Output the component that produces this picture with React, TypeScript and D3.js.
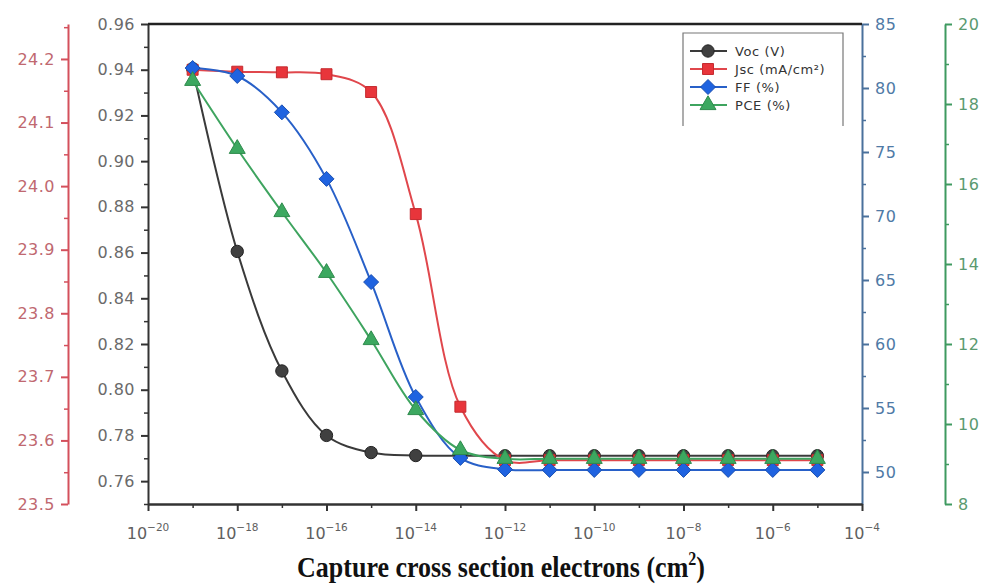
import * as d3 from 'd3';
import React, { useEffect, useRef } from 'react';

// Capture cross section exponents (10^n cm^2)
const exponents = [-19, -18, -17, -16, -15, -14, -13, -12, -11, -10, -9, -8, -7, -6, -5];

// Series values
const vocValues = [0.9405, 0.8605, 0.8082, 0.7800, 0.7725, 0.7712, 0.7711, 0.7711, 0.7711, 0.7711, 0.7711, 0.7711, 0.7711, 0.7711, 0.7711];
const jscValues = [24.183, 24.180, 24.179, 24.176, 24.148, 23.956, 23.653, 23.569, 23.569, 23.569, 23.569, 23.569, 23.569, 23.569, 23.569];
const ffValues = [81.56, 80.94, 78.10, 72.90, 64.84, 55.86, 51.10, 50.20, 50.16, 50.16, 50.16, 50.16, 50.16, 50.16, 50.16];
const pceValues = [18.58, 16.88, 15.30, 13.78, 12.10, 10.35, 9.35, 9.13, 9.13, 9.13, 9.13, 9.13, 9.13, 9.13, 9.13];

// Tick values
const xTickExponents = [-20, -18, -16, -14, -12, -10, -8, -6, -4];
const xMinorExponents = [-19, -17, -15, -13, -11, -9, -7, -5];
const vocTicks = [0.76, 0.78, 0.80, 0.82, 0.84, 0.86, 0.88, 0.90, 0.92, 0.94, 0.96];
const vocMinor = [0.75, 0.77, 0.79, 0.81, 0.83, 0.85, 0.87, 0.89, 0.91, 0.93, 0.95];
const jscTicks = [23.5, 23.6, 23.7, 23.8, 23.9, 24.0, 24.1, 24.2];
const jscMinor = [23.55, 23.65, 23.75, 23.85, 23.95, 24.05, 24.15, 24.25];
const ffTicks = [50, 55, 60, 65, 70, 75, 80, 85];
const ffMinor = [52.5, 57.5, 62.5, 67.5, 72.5, 77.5, 82.5];
const pceTicks = [8, 10, 12, 14, 16, 18, 20];
const pceMinor = [9, 11, 13, 15, 17, 19];

const legendLabels = ['Voc (V)', 'Jsc (mA/cm²)', 'FF (%)', 'PCE (%)'];

const App = () => {
    const myRef = useRef<SVGSVGElement>(null);

    useEffect(() => {
        drawChart();
        // eslint-disable-next-line react-hooks/exhaustive-deps
    }, []);

    function drawChart() {
        const svg = d3.select(myRef.current);
        svg.selectAll('*').remove();

        const plot = { left: 148, right: 862, top: 24, bottom: 504 };
        const font = '"DejaVu Sans", Arial, sans-serif';

        const x = d3.scaleLog().domain([1e-20, 1e-4]).range([plot.left, plot.right]);
        const yVoc = d3.scaleLinear().domain([0.75, 0.96]).range([plot.bottom, plot.top]);
        const yJsc = d3.scaleLinear().domain([23.5, 24.255]).range([plot.bottom, plot.top]);
        const yFF = d3.scaleLinear().domain([47.5, 85]).range([plot.bottom, plot.top]);
        const yPCE = d3.scaleLinear().domain([8, 20]).range([plot.bottom, plot.top]);

        // Draws an axis with major + minor ticks
        function drawAxis(axisFn, scale, pos, major, minor, color, labelColor, fmt) {
            const g = svg.append('g').attr('transform', `translate(${pos[0]},${pos[1]})`);
            const axis = axisFn(scale).tickValues(major).tickSize(7).tickSizeOuter(0).tickPadding(6);
            if (fmt) axis.tickFormat(fmt);
            g.call(axis);
            g.select('.domain').attr('stroke', color).attr('stroke-width', 2);
            g.selectAll('.tick line').attr('stroke', color).attr('stroke-width', 2);
            g.selectAll('.tick text')
                .attr('fill', labelColor)
                .style('font-family', font)
                .style('font-size', '16px')
                .style('letter-spacing', '0.5px');
            const gm = svg.append('g').attr('transform', `translate(${pos[0]},${pos[1]})`);
            gm.call(axisFn(scale).tickValues(minor).tickSize(4).tickFormat(() => ''));
            gm.select('.domain').remove();
            gm.selectAll('.tick line').attr('stroke', color).attr('stroke-width', 1.5);
            return g;
        }

        drawAxis(d3.axisLeft, yJsc, [68, 0], jscTicks, jscMinor, '#d4505c', '#c06870', d3.format('.1f'));
        drawAxis(d3.axisLeft, yVoc, [plot.left, 0], vocTicks, vocMinor, '#333', '#6a6a6a', d3.format('.2f'));
        drawAxis(d3.axisRight, yFF, [plot.right, 0], ffTicks, ffMinor, '#4a719c', '#4f7aa6', d3.format('d'));
        drawAxis(d3.axisRight, yPCE, [945, 0], pceTicks, pceMinor, '#3f9a60', '#5a9a70', d3.format('d'));

        // Top border
        svg.append('line')
            .attr('x1', plot.left).attr('x2', plot.right)
            .attr('y1', plot.top).attr('y2', plot.top)
            .attr('stroke', '#222').attr('stroke-width', 2.5);

        // X axis
        const gx = svg.append('g').attr('transform', `translate(0,${plot.bottom})`);
        gx.call(d3.axisBottom(x).tickValues(xTickExponents.map(e => Math.pow(10, e))).tickSize(7).tickSizeOuter(0).tickFormat(() => ''));
        gx.select('.domain').attr('stroke', '#333').attr('stroke-width', 2.5);
        gx.selectAll('.tick line').attr('stroke', '#333').attr('stroke-width', 2);
        const gxm = svg.append('g').attr('transform', `translate(0,${plot.bottom})`);
        gxm.call(d3.axisBottom(x).tickValues(xMinorExponents.map(e => Math.pow(10, e))).tickSize(4).tickFormat(() => ''));
        gxm.select('.domain').remove();
        gxm.selectAll('.tick line').attr('stroke', '#333').attr('stroke-width', 1.5);

        const xl = svg.append('g');
        xTickExponents.forEach(e => {
            const t = xl.append('text')
                .attr('x', x(Math.pow(10, e)))
                .attr('y', 539)
                .attr('text-anchor', 'middle')
                .attr('fill', '#606060')
                .style('font-family', font)
                .style('font-size', '16px');
            t.append('tspan').text('10');
            t.append('tspan').attr('dy', -8).style('font-size', '10.5px').text(`−${-e}`);
        });

        // X title
        const title = svg.append('text')
            .attr('transform', 'translate(501,577) scale(1,1.12)')
            .attr('text-anchor', 'middle')
            .attr('fill', '#111')
            .style('font-family', '"Liberation Serif", "Times New Roman", serif')
            .style('font-weight', 'bold')
            .style('font-size', '26px');
        title.append('tspan').text('Capture cross section electrons (cm');
        title.append('tspan').attr('dy', -11).style('font-size', '16px').text('2');
        title.append('tspan').attr('dy', 11).text(')');

        // Series
        const diamond = (s) => `M0,${-s}L${s},0L0,${s}L${-s},0Z`;
        const series = [
            { values: vocValues, y: yVoc, line: '#3a3a3a', fill: '#404040', stroke: '#222', shape: d3.symbol(d3.symbolCircle, 120)() },
            { values: jscValues, y: yJsc, line: '#e0474c', fill: '#e8353b', stroke: '#c42a2f', shape: d3.symbol(d3.symbolSquare, 120)() },
            { values: ffValues, y: yFF, line: '#2860c8', fill: '#1f63e0', stroke: '#1a4fb0', shape: diamond(7.5) },
            { values: pceValues, y: yPCE, line: '#3ea45f', fill: '#3ca860', stroke: '#2e8a4c', shape: d3.symbol(d3.symbolTriangle, 110)() },
        ];

        series.forEach(s => {
            const pts = exponents.map((e, i) => [x(Math.pow(10, e)), s.y(s.values[i])]);
            svg.append('path')
                .attr('d', d3.line().curve(d3.curveCatmullRom.alpha(0.5))(pts))
                .attr('fill', 'none')
                .attr('stroke', s.line)
                .attr('stroke-width', 2);
            svg.append('g').selectAll('path')
                .data(pts)
                .enter()
                .append('path')
                .attr('d', s.shape)
                .attr('transform', d => `translate(${d[0]},${d[1]})`)
                .attr('fill', s.fill)
                .attr('stroke', s.stroke)
                .attr('stroke-width', 1);
        });

        // Legend
        const legend = svg.append('g');
        legend.append('path')
            .attr('d', 'M683,126V33H843V126')
            .attr('fill', 'none')
            .attr('stroke', '#777')
            .attr('stroke-width', 1.2);
        series.forEach((s, i) => {
            const ly = 51 + i * 18;
            legend.append('line')
                .attr('x1', 690).attr('x2', 727)
                .attr('y1', ly).attr('y2', ly)
                .attr('stroke', s.line).attr('stroke-width', 2);
            legend.append('path')
                .attr('d', s.shape)
                .attr('transform', `translate(708,${ly})`)
                .attr('fill', s.fill)
                .attr('stroke', s.stroke);
            legend.append('text')
                .attr('x', 735).attr('y', ly + 4.5)
                .attr('fill', '#333')
                .style('font-family', font)
                .style('font-size', '13px')
                .style('letter-spacing', '0.6px')
                .text(legendLabels[i]);
        });
    }

    return (
        <svg
            ref={myRef}
            width={985}
            height={588}
            style={{ position: 'absolute', left: 0, top: 0, background: '#fff' }}
        />
    );
};

export default App;
